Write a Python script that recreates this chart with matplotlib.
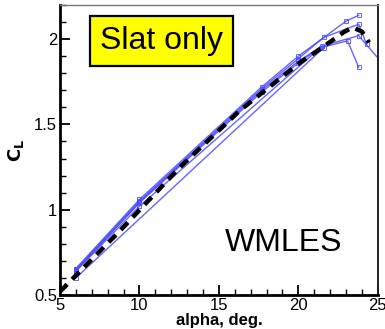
import matplotlib
matplotlib.use("Agg")
import matplotlib.pyplot as plt
from matplotlib.ticker import MultipleLocator

plt.rcParams['font.family'] = ['Liberation Sans', 'DejaVu Sans']

# Reference curve (thick dashed)
alpha_ref = [5.0, 8.78, 12.56, 16.34, 20.12, 21.5, 22.85, 23.4, 24.0, 24.45]
cl_ref = [0.52, 0.877, 1.25, 1.583, 1.863, 1.95, 2.04, 2.069, 2.045, 1.98]

# WMLES runs
alpha_a = [6, 10, 17.7, 20, 23.0, 23.8]
cl_a = [0.655, 1.06, 1.72, 1.90, 2.105, 2.14]

alpha_b = [6, 10, 17.7, 20, 21.6, 23.8, 24.3]
cl_b = [0.65, 1.05, 1.71, 1.885, 2.01, 2.087, 1.97]

alpha_c = [6, 10, 17.7, 20, 21.5, 23.8, 25.06]
cl_c = [0.645, 1.045, 1.70, 1.87, 1.96, 2.02, 1.884]

alpha_d = [6, 10, 17.7, 20, 21.4, 23.1, 23.8]
cl_d = [0.64, 1.04, 1.69, 1.86, 1.95, 1.99, 1.835]

alpha_e = [6, 21.6]
cl_e = [0.6, 1.95]

alpha_f = [6, 10, 21.4]
cl_f = [0.64, 1.02, 1.95]

runs = [(alpha_a, cl_a), (alpha_b, cl_b), (alpha_c, cl_c),
        (alpha_d, cl_d), (alpha_e, cl_e), (alpha_f, cl_f)]

x_ticks = [5, 10, 15, 20, 25]
y_ticks = [0.5, 1, 1.5, 2]

fig = plt.figure(figsize=(3.85, 3.29), dpi=100)
ax = fig.add_axes([0.1558, 0.1033, 0.8253, 0.8815])

blue = '#4b4bff'
for a, c in runs:
    ax.plot(a, c, color=blue, lw=1.0, alpha=0.85, marker='s', ms=3.0,
            mfc='none', mec=blue, mew=0.7, zorder=2)

ax.plot(alpha_ref, cl_ref, color='black', lw=3.2, ls=(0, (2.3, 1.6)), zorder=3)

ax.set_xlim(5, 25)
ax.set_ylim(0.5, 2.2)
ax.set_xticks(x_ticks)
ax.set_xticklabels([str(v) for v in x_ticks])
ax.set_yticks(y_ticks)
ax.set_yticklabels(['0.5', '1', '1.5', '2'])
ax.xaxis.set_minor_locator(MultipleLocator(1))
ax.yaxis.set_minor_locator(MultipleLocator(0.1))
ax.tick_params(which='both', direction='in', top=False, right=False,
               labelsize=12, width=1.3, pad=2)
ax.tick_params(which='major', length=7)
ax.tick_params(which='minor', length=4, width=1.0)

for s in ['left', 'bottom']:
    ax.spines[s].set_linewidth(2.0)
ax.spines['right'].set_linewidth(1.4)
ax.spines['right'].set_color('#222222')
ax.spines['top'].set_linewidth(1.0)
ax.spines['top'].set_color('#777777')

ax.set_xlabel('alpha, deg.', fontsize=12, fontweight='bold', labelpad=0)
ax.set_ylabel(r'$\mathbf{C_L}$', fontsize=13, labelpad=6)

ax.text(0.32, 0.876, 'Slat only', transform=ax.transAxes, fontsize=23,
        ha='center', va='center',
        bbox=dict(boxstyle='square,pad=0.32', fc='#ffff00', ec='black', lw=1.6))
ax.text(0.703, 0.179, 'WMLES', transform=ax.transAxes, fontsize=23,
        ha='center', va='center')

fig.savefig('out.png', dpi=100)
